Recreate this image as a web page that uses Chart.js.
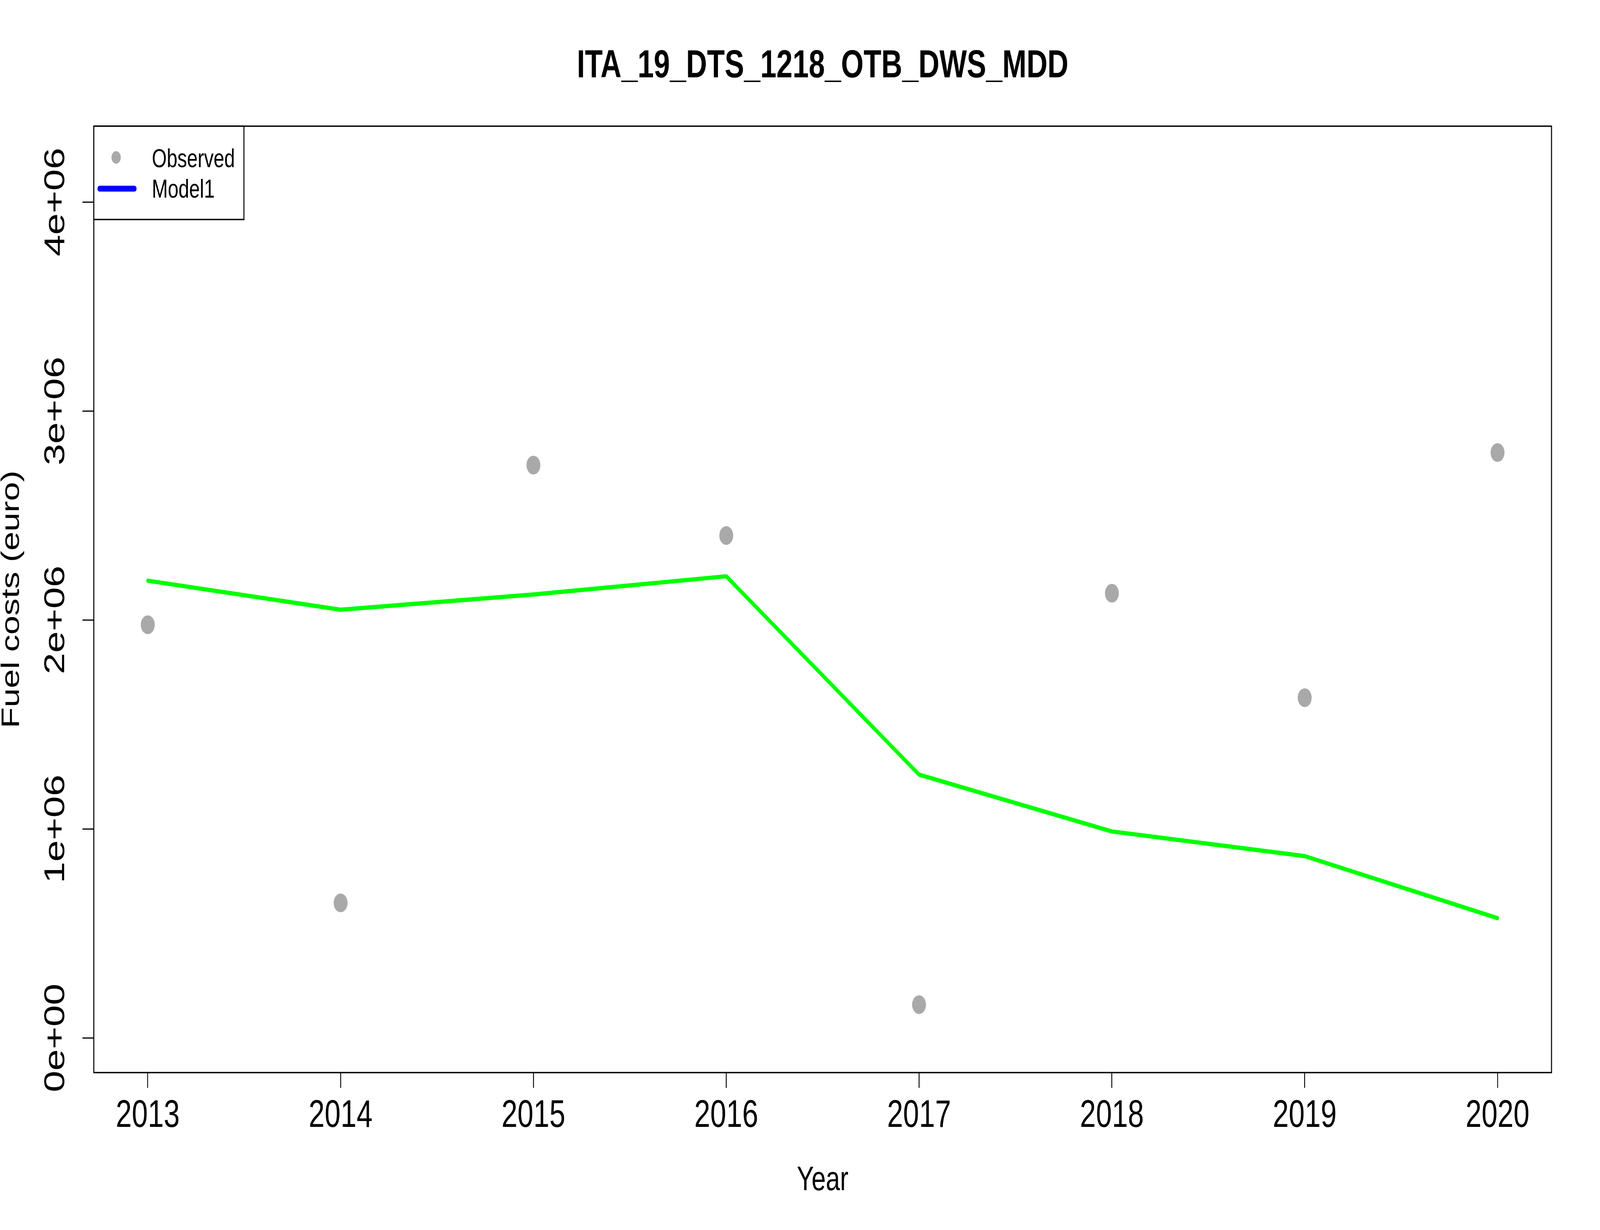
<!DOCTYPE html>
<html>
<head>
<meta charset="utf-8">
<script src="https://cdn.jsdelivr.net/npm/chart.js@4"></script>
<style>
	html, body { margin: 0; padding: 0; background: #ffffff; overflow: hidden; }
	#fuel-chart { display: block; width: 100vw; height: 100vh; }
</style>
</head>
<body>
<canvas id="fuel-chart" width="5511" height="3149" style="width: 100vw; height: 100vh;"></canvas>
<script>
// Values
const years = [ 2013, 2014, 2015, 2016, 2017, 2018, 2019, 2020 ];
const observed = [ 1977000, 646000, 2741000, 2404000, 159000, 2128000, 1628000, 2801000 ];
const model1 = [ 2188000, 2049000, 2122000, 2209000, 1260000, 988000, 870000, 573000 ];
const yTickValues = [ 0, 1000000, 2000000, 3000000, 4000000 ];
const yTickLabels = [ '0e+00', '1e+06', '2e+06', '3e+06', '4e+06' ];

const chartTitle = 'ITA_19_DTS_1218_OTB_DWS_MDD';
const xTitle = 'Year';
const yTitle = 'Fuel costs (euro)';
const legendLabels = [ 'Observed', 'Model1' ];

const FONT = '"Liberation Sans", Arial, Helvetica, sans-serif';

// Title, y labels, axis titles, frame and legend drawn on top of the chart.
const decorations = {
	id: 'decorations',
	afterDraw( chart ) {
		const ctx = chart.ctx;
		const area = chart.chartArea;
		const yScale = chart.scales.y;
		const midX = ( area.left + area.right ) / 2;
		const midY = ( area.top + area.bottom ) / 2;

		ctx.save();
		ctx.fillStyle = '#000000';

		// Title
		ctx.font = 'bold 100px ' + FONT;
		ctx.textAlign = 'center';
		ctx.textBaseline = 'alphabetic';
		ctx.fillText( chartTitle, midX, 198 );

		// x title
		ctx.font = '88px ' + FONT;
		ctx.fillText( xTitle, midX, 3047 );

		// y title
		ctx.save();
		ctx.translate( 41, midY );
		ctx.rotate( -Math.PI / 2 );
		ctx.textBaseline = 'middle';
		ctx.fillText( yTitle, 0, 0 );
		ctx.restore();

		// y tick labels, rotated like R does
		ctx.font = '99px ' + FONT;
		yTickValues.forEach( ( v, i ) => {
			ctx.save();
			ctx.translate( 194, yScale.getPixelForValue( v ) );
			ctx.rotate( -Math.PI / 2 );
			ctx.textAlign = 'center';
			ctx.textBaseline = 'middle';
			ctx.fillText( yTickLabels[ i ], 0, 0 );
			ctx.restore();
		} );

		// Plot frame
		ctx.strokeStyle = '#000000';
		ctx.lineWidth = 3.5;
		ctx.strokeRect( area.left, area.top, area.right - area.left, area.bottom - area.top );

		// Legend
		ctx.fillStyle = '#ffffff';
		ctx.fillRect( area.left, area.top, 517, 239 );
		ctx.strokeRect( area.left, area.top, 517, 239 );

		ctx.fillStyle = '#A9A9A9';
		ctx.beginPath();
		ctx.arc( area.left + 77, area.top + 80, 16, 0, Math.PI * 2 );
		ctx.fill();

		ctx.strokeStyle = '#0000FF';
		ctx.lineWidth = 15;
		ctx.lineCap = 'round';
		ctx.beginPath();
		ctx.moveTo( area.left + 20, area.top + 160 );
		ctx.lineTo( area.left + 140, area.top + 160 );
		ctx.stroke();

		ctx.fillStyle = '#000000';
		ctx.font = '66px ' + FONT;
		ctx.textAlign = 'left';
		ctx.textBaseline = 'alphabetic';
		ctx.fillText( legendLabels[ 0 ], area.left + 200, area.top + 105 );
		ctx.fillText( legendLabels[ 1 ], area.left + 200, area.top + 183 );

		ctx.restore();
	}
};

new Chart( document.getElementById( 'fuel-chart' ), {
	type: 'scatter',
	data: {
		datasets: [
			{
				label: legendLabels[ 0 ],
				data: years.map( ( year, i ) => ( { x: year, y: observed[ i ] } ) ),
				showLine: false,
				pointRadius: 24,
				pointBorderWidth: 0,
				pointBackgroundColor: '#A9A9A9',
				pointHoverRadius: 24,
				order: 2,
			},
			{
				label: legendLabels[ 1 ],
				data: years.map( ( year, i ) => ( { x: year, y: model1[ i ] } ) ),
				showLine: true,
				borderColor: '#00FF00',
				borderWidth: 11,
				borderJoinStyle: 'round',
				borderCapStyle: 'round',
				pointRadius: 0,
				tension: 0,
				order: 1,
			}
		],
	},
	options: {
		responsive: false,
		animation: false,
		devicePixelRatio: 1,
		layout: {
			padding: { top: 323, right: 167, bottom: 0, left: 0 },
		},
		plugins: {
			legend: { display: false },
			title: { display: false },
			tooltip: { enabled: false },
		},
		scales: {
			x: {
				type: 'linear',
				min: 2012.72,
				max: 2020.28,
				afterBuildTicks: ( scale ) => {
					scale.ticks = years.map( ( v ) => ( { value: v } ) );
				},
				afterFit: ( scale ) => {
					scale.height = 403;
				},
				border: { display: false },
				grid: {
					drawOnChartArea: false,
					drawTicks: true,
					tickLength: 39,
					tickWidth: 3,
					tickColor: '#000000',
				},
				ticks: {
					color: '#000000',
					font: { family: FONT, size: 99 },
					padding: 13,
					maxRotation: 0,
					callback: ( v ) => String( v ),
				},
			},
			y: {
				type: 'linear',
				min: -166000,
				max: 4363000,
				afterBuildTicks: ( scale ) => {
					scale.ticks = yTickValues.map( ( v ) => ( { value: v } ) );
				},
				afterFit: ( scale ) => {
					scale.width = 323;
				},
				border: { display: false },
				grid: {
					drawOnChartArea: false,
					drawTicks: true,
					tickLength: 39,
					tickWidth: 3,
					tickColor: '#000000',
				},
				ticks: {
					display: false,
				},
			},
		},
	},
	plugins: [ decorations ],
} );
</script>
</body>
</html>
